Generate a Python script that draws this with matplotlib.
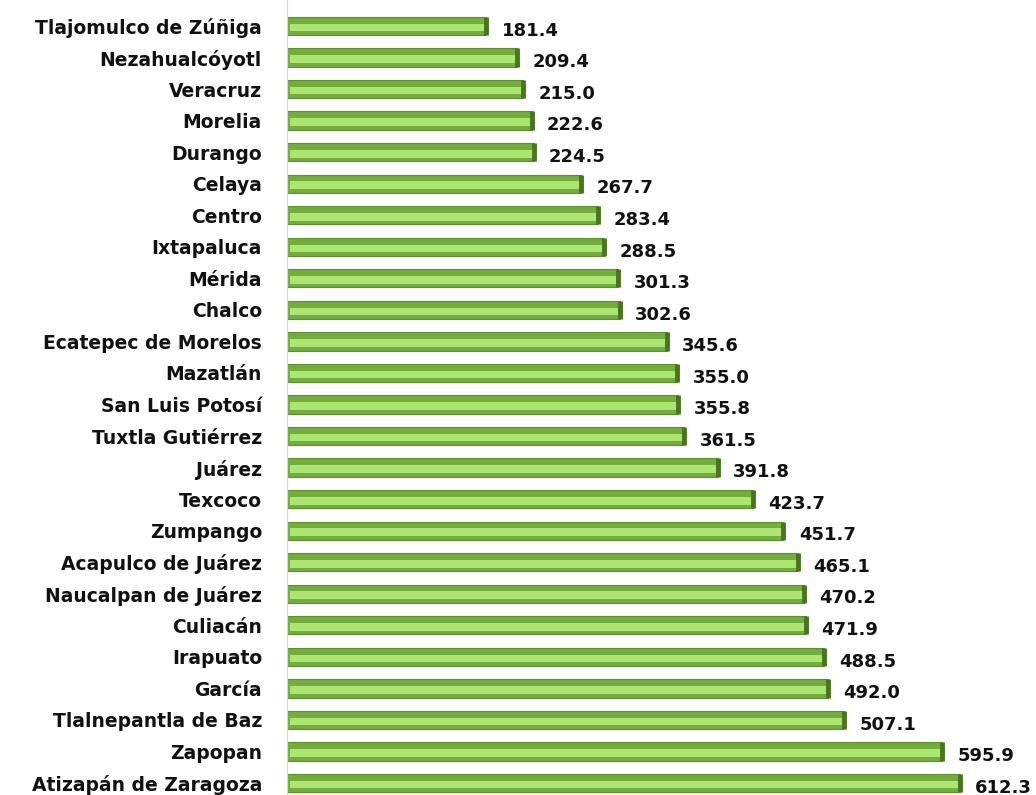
import matplotlib.pyplot as plt

cities = ["Tlajomulco de Zúñiga", "Nezahualcóyotl", "Veracruz", "Morelia", "Durango",
          "Celaya", "Centro", "Ixtapaluca", "Mérida", "Chalco", "Ecatepec de Morelos",
          "Mazatlán", "San Luis Potosí", "Tuxtla Gutiérrez", "Juárez", "Texcoco",
          "Zumpango", "Acapulco de Juárez", "Naucalpan de Juárez", "Culiacán", "Irapuato",
          "García", "Tlalnepantla de Baz", "Zapopan", "Atizapán de Zaragoza"]
values = [181.4, 209.4, 215.0, 222.6, 224.5, 267.7, 283.4, 288.5, 301.3, 302.6, 345.6,
          355.0, 355.8, 361.5, 391.8, 423.7, 451.7, 465.1, 470.2, 471.9, 488.5, 492.0,
          507.1, 595.9, 612.3]

pos = list(range(len(cities)))
h = 0.58

fig = plt.figure(figsize=(10.36, 7.95), dpi=100)
ax = fig.add_axes([0.277, 0.0, 0.723, 1.0])

# outer darker body, then lighter stripe in lower middle
ax.barh(pos, values, height=h, color="#74ad3e", edgecolor="#5d8f2c", linewidth=0.8, zorder=2)
ax.barh([p + 0.05 for p in pos], [v - 4 for v in values], left=3, height=h * 0.42,
        color="#ace672", linewidth=0, zorder=3)
# dark end cap
ax.vlines(values, [p - h / 2 for p in pos], [p + h / 2 for p in pos],
          colors="#4a7420", linewidth=3.5, zorder=4)

for p, v in zip(pos, values):
    ax.text(v + 14, p + 0.15, f"{v:.1f}", va="center", ha="left",
            fontsize=13, fontweight="bold", color="#111111")

ax.set_yticks(pos)
ax.set_yticklabels(cities, fontsize=13.5, fontweight="bold", color="#111111")
ax.tick_params(axis="y", length=0, pad=18)
ax.set_xticks([])
ax.set_xlim(0, 681.5)
ax.set_ylim(24.38, -0.824)
for s in ["top", "right", "bottom"]:
    ax.spines[s].set_visible(False)
ax.spines["left"].set_color("#d9d9d9")

fig.savefig("out.png", dpi=100)
